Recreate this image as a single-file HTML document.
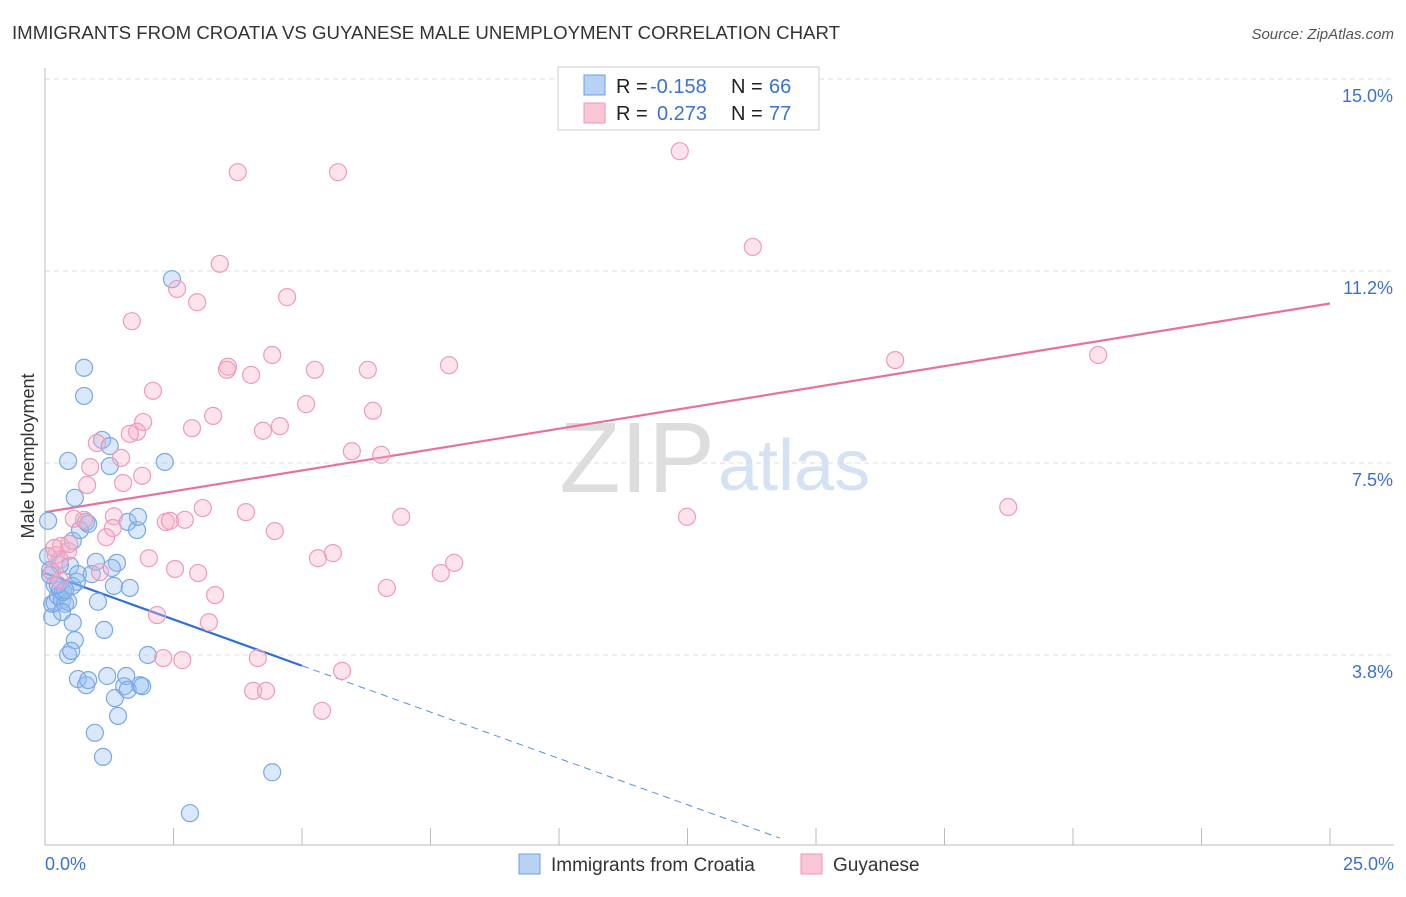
<!DOCTYPE html>
<html><head><meta charset="utf-8"><style>
body{margin:0;background:#fff;font-family:"Liberation Sans",sans-serif;}
svg text{font-family:"Liberation Sans",sans-serif;}
</style></head><body>
<svg id="chart" width="1406" height="892">
<text x="12" y="39" font-size="18" fill="#333" textLength="828" lengthAdjust="spacingAndGlyphs">IMMIGRANTS FROM CROATIA VS GUYANESE MALE UNEMPLOYMENT CORRELATION CHART</text>
<text x="1394" y="39" font-size="15" fill="#555" font-style="italic" text-anchor="end">Source: ZipAtlas.com</text>
<text x="715" y="492" font-size="100" fill="#ddd" text-anchor="end" font-family="Liberation Serif">ZIP</text>
<text x="718" y="490" font-size="72" fill="#d4e2f4">atlas</text>
<text transform="translate(34,456) rotate(-90)" font-size="18" fill="#333" text-anchor="middle">Male Unemployment</text>
<g id="grid"></g><g id="xticks"></g><g id="lines"></g><g id="pts"></g>
<g>
<rect x="558" y="67" width="261" height="63" fill="#fff" stroke="#ccc"/>
<rect x="584" y="75" width="21" height="20" fill="#b8d2f4" stroke="#6a9fe0"/>
<rect x="584" y="103" width="21" height="20" fill="#f9c6d6" stroke="#ec9ab4"/>
<text x="616" y="93" font-size="20" fill="#222">R =</text>
<text x="650" y="93" font-size="20" fill="#3a72d0">-0.158</text>
<text x="731" y="93" font-size="20" fill="#222">N =</text>
<text x="769" y="93" font-size="20" fill="#3a72d0">66</text>
<text x="616" y="120" font-size="20" fill="#222">R =</text>
<text x="657" y="120" font-size="20" fill="#3a72d0">0.273</text>
<text x="731" y="120" font-size="20" fill="#222">N =</text>
<text x="769" y="120" font-size="20" fill="#3a72d0">77</text>
</g>
<g>
<rect x="519" y="854" width="21" height="20" fill="#b8d2f4" stroke="#6a9fe0"/>
<text x="551" y="871" font-size="19" fill="#333">Immigrants from Croatia</text>
<rect x="801" y="854" width="21" height="20" fill="#f9c6d6" stroke="#ec9ab4"/>
<text x="833" y="871" font-size="19" fill="#333">Guyanese</text>
</g>
</svg>
<script>
const yTicks=[3.75,7.5,11.25,15];
const yTickLabels=["3.8%","7.5%","11.2%","15.0%"];
const xTickVals=[0,2.5,5,7.5,10,12.5,15,17.5,20,22.5,25];
const croX=[0.06,0.06,0.10,0.14,0.14,0.19,0.25,0.29,0.33,0.39,0.45,0.35,0.45,0.58,0.62,0.53,0.54,0.49,0.64,0.68,0.76,0.76,0.80,0.84,0.91,0.99,1.03,1.11,1.15,1.26,1.26,1.34,1.40,1.30,1.61,1.65,1.79,1.81,1.85,2.00,2.33,2.47,0.54,0.58,0.45,0.51,0.64,0.80,0.84,1.21,1.36,1.42,0.97,1.13,1.54,1.58,1.61,1.89,2.82,4.42,0.29,0.19,0.39,0.10,0.25,0.33];
const croY=[6.37,5.68,5.41,4.49,4.75,4.77,4.90,5.02,4.82,4.75,4.79,4.98,7.54,6.82,5.18,5.10,5.98,5.49,5.33,6.19,9.36,8.81,6.35,6.31,5.33,5.57,4.79,7.95,4.24,7.44,7.83,5.10,5.55,5.45,6.35,5.06,6.19,6.45,3.16,3.75,7.52,11.09,4.38,4.04,3.75,3.83,3.28,3.16,3.26,3.34,2.91,2.56,2.23,1.76,3.14,3.34,3.07,3.14,0.66,1.46,5.51,5.12,5.02,5.31,5.12,4.59];
const guyX=[12.35,3.75,5.70,13.77,3.40,2.57,2.96,4.71,1.69,16.54,20.49,7.86,3.56,4.42,5.25,6.28,3.54,4.01,2.10,5.08,6.38,3.27,1.91,2.86,4.57,4.24,1.79,1.65,1.01,5.97,6.54,1.48,0.88,1.89,1.52,0.82,18.74,3.07,3.91,12.49,6.93,1.34,0.56,0.76,2.35,2.72,2.43,4.47,1.32,1.19,0.31,0.45,0.47,0.21,5.60,5.31,2.02,7.96,0.29,1.07,2.53,2.98,7.70,6.65,3.31,2.18,3.19,2.30,2.67,4.14,5.78,4.05,4.30,5.39,0.14,0.18,0.29];
const guyY=[13.59,13.18,13.18,11.72,11.39,10.90,10.64,10.74,10.27,9.51,9.61,9.41,9.38,9.61,9.32,9.32,9.32,9.22,8.91,8.65,8.52,8.42,8.30,8.18,8.22,8.13,8.11,8.07,7.89,7.73,7.66,7.60,7.42,7.25,7.11,7.07,6.64,6.62,6.54,6.45,6.45,6.46,6.41,6.39,6.35,6.39,6.37,6.17,6.23,6.05,5.88,5.78,5.92,5.70,5.74,5.64,5.64,5.55,5.61,5.37,5.43,5.35,5.35,5.06,4.92,4.53,4.39,3.69,3.65,3.69,3.44,3.05,3.05,2.66,5.37,5.84,5.21];
const croTrend=[5.35,-0.362];
const guyTrend=[6.54,0.163];
const croSolidEnd=5, croDashEnd=14.3;
const sx=v=>45+v*51.4, sy=v=>847-v*51.2;
const NS="http://www.w3.org/2000/svg";
function mk(tag,attrs,parent){const e=document.createElementNS(NS,tag);for(const k in attrs)e.setAttribute(k,attrs[k]);document.getElementById(parent).appendChild(e);return e;}
yTicks.forEach((t,i)=>{
 const l=mk('line',{x1:45,x2:1394,y1:sy(t),y2:sy(t),stroke:'#ddd','stroke-dasharray':'5,4'},'grid');
 
 
 const tx=mk('text',{x:1393,y:sy(t)+23,'font-size':18,fill:'#3a72d0','text-anchor':'end'},'grid');
 tx.textContent=yTickLabels[i];
 
 
});
const ax=mk('line',{x1:45,x2:45,y1:68,y2:845,stroke:'#bbb'},'xticks');


const bx=mk('line',{x1:45,x2:1394,y1:845,y2:845,stroke:'#bbb'},'xticks');


xTickVals.forEach(v=>{
 const t=mk('line',{x1:sx(v),x2:sx(v),y1:828,y2:845,stroke:'#bbb'},'xticks');
 
 
});
const xl=mk('text',{x:45,y:870,'font-size':18,fill:'#3a72d0'},'xticks');xl.textContent='0.0%';


const xr=mk('text',{x:1394,y:870,'font-size':18,fill:'#3a72d0','text-anchor':'end'},'xticks');xr.textContent='25.0%';


croX.forEach((x,i)=>{
 const c=mk('circle',{cx:sx(x),cy:sy(croY[i]),r:8.5,fill:'rgba(150,190,240,0.35)',stroke:'#7aa8e4','stroke-width':1.2},'pts');
 
 
});
guyX.forEach((x,i)=>{
 const c=mk('circle',{cx:sx(x),cy:sy(guyY[i]),r:8.5,fill:'rgba(246,176,200,0.35)',stroke:'#ee9cb8','stroke-width':1.2},'pts');
 
 
});
const f=(t,x)=>t[0]+t[1]*x;
const g=mk('line',{x1:sx(0),y1:sy(f(guyTrend,0)),x2:sx(25),y2:sy(f(guyTrend,25)),stroke:'#e8709a','stroke-width':2.2},'lines');


const b=mk('line',{x1:sx(0),y1:sy(f(croTrend,0)),x2:sx(croSolidEnd),y2:sy(f(croTrend,croSolidEnd)),stroke:'#2f6fd8','stroke-width':2.2},'lines');


const bd=mk('line',{x1:sx(croSolidEnd),y1:sy(f(croTrend,croSolidEnd)),x2:sx(croDashEnd),y2:sy(f(croTrend,croDashEnd)),stroke:'#5b8fe0','stroke-width':1,'stroke-dasharray':'7,5'},'lines');


</script>
</body></html>
